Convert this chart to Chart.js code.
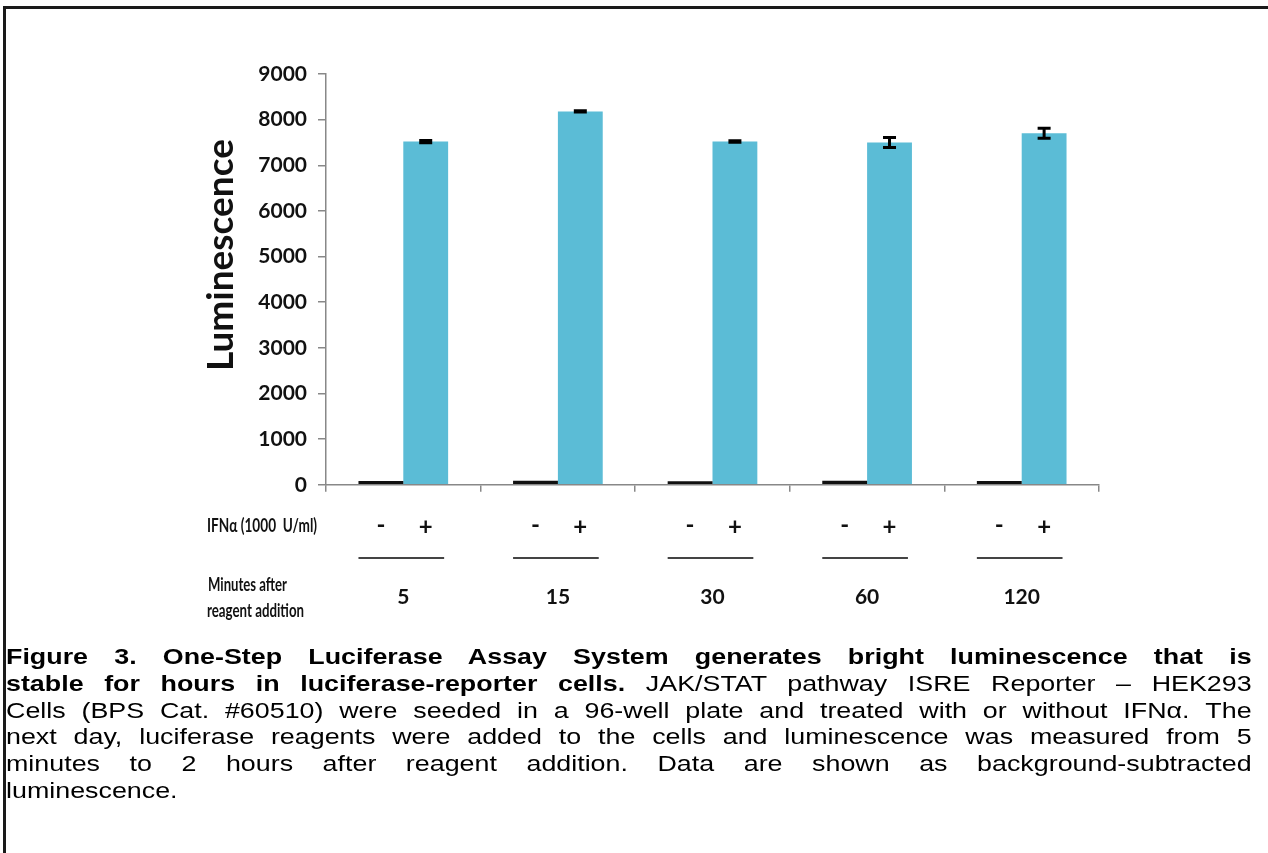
<!DOCTYPE html>
<html>
<head>
<meta charset="utf-8">
<script src="https://cdn.jsdelivr.net/npm/chart.js@4"></script>
<style>
  body { margin: 0; background: #fff; width: 1268px; height: 853px; overflow: hidden; position: relative; }
  #frame { position: absolute; left: 3px; top: 6px; width: 1300px; height: 900px;
           border-top: 3px solid #1a1a1a; border-left: 3px solid #1a1a1a; }
  #wrap { position: absolute; left: 0; top: 0; }
  #caption { position: absolute; left: 6px; top: 644px; width: 1021px;
             transform: scaleX(1.22); transform-origin: 0 0;
             font-family: "Liberation Sans", Arial, sans-serif; font-size: 22px; line-height: 26.8px; color: #000; }
  #caption div { text-align: justify; text-align-last: justify; white-space: nowrap; }
  #caption div.last { text-align-last: left; }
</style>
</head>
<body>
<div id="frame"></div>
<div id="wrap"><canvas id="lumChart" width="1268" height="721"></canvas></div>
<div id="caption">
  <div><b>Figure 3. One-Step Luciferase Assay System generates bright luminescence that is</b></div>
  <div><b>stable for hours in luciferase-reporter cells.</b> JAK/STAT pathway ISRE Reporter – HEK293</div>
  <div>Cells (BPS Cat. #60510) were seeded in a 96-well plate and treated with or without IFNα. The</div>
  <div>next day, luciferase reagents were added to the cells and luminescence was measured from 5</div>
  <div>minutes to 2 hours after reagent addition. Data are shown as background-subtracted</div>
  <div class="last">luminescence.</div>
</div>
<script>
// data
var minutes = ['5', '15', '30', '60', '120'];
var noIFN = [85, 90, 80, 90, 85];
var withIFN = [7520, 8180, 7520, 7500, 7700];
var withIFNErr = [25, 15, 15, 110, 110];
var yTicks = [0, 1000, 2000, 3000, 4000, 5000, 6000, 7000, 8000, 9000];

var labelFont = 'Lato, "Open Sans", sans-serif';

// error bars + the labels under the axis
var extrasPlugin = {
  id: 'extras',
  afterDatasetsDraw: function (chart) {
    var ctx = chart.ctx;
    var y = chart.scales.y;
    var meta = chart.getDatasetMeta(1);
    ctx.save();
    ctx.strokeStyle = '#000';
    ctx.lineWidth = 3;
    meta.data.forEach(function (bar, i) {
      var hi = y.getPixelForValue(withIFN[i] + withIFNErr[i]);
      var lo = y.getPixelForValue(withIFN[i] - withIFNErr[i]);
      var x = bar.x;
      ctx.beginPath();
      ctx.moveTo(x, hi); ctx.lineTo(x, lo);
      ctx.moveTo(x - 6.5, hi); ctx.lineTo(x + 6.5, hi);
      ctx.moveTo(x - 6.5, lo); ctx.lineTo(x + 6.5, lo);
      ctx.stroke();
    });
    ctx.restore();
  },
  afterDraw: function (chart) {
    var ctx = chart.ctx;
    var neg = chart.getDatasetMeta(0).data;
    var pos = chart.getDatasetMeta(1).data;
    ctx.save();
    ctx.fillStyle = '#111';
    ctx.textBaseline = 'middle';

    // y title
    ctx.save();
    ctx.translate(221, 255);
    ctx.rotate(-Math.PI / 2);
    ctx.textAlign = 'center';
    ctx.font = 'bold 37px ' + labelFont;
    ctx.fillText('Luminescence', 0, 0);
    ctx.restore();

    ctx.textAlign = 'left';
    ctx.font = 'bold 19px ' + labelFont;
    ctx.fillText('IFNα (1000  U/ml)', 207, 526, 110);
    ctx.fillText('Minutes after', 208, 585, 79);
    ctx.fillText('reagent addition', 207, 611, 97);

    ctx.textAlign = 'center';
    ctx.font = 'bold 24px ' + labelFont;
    for (var i = 0; i < neg.length; i++) {
      ctx.fillText('-', neg[i].x, 525);
      ctx.fillText('+', pos[i].x, 527);
      ctx.beginPath();
      ctx.strokeStyle = '#444';
      ctx.lineWidth = 2;
      ctx.moveTo(neg[i].x - neg[i].width / 2, 558);
      ctx.lineTo(pos[i].x + pos[i].width / 2 - 4, 558);
      ctx.stroke();
    }
    ctx.restore();
  }
};

var ctx = document.getElementById('lumChart');
var lumChart = new Chart(ctx, {
  type: 'bar',
  data: {
    labels: minutes,
    datasets: [{
      label: '-',
      data: noIFN,
      backgroundColor: '#111'
    }, {
      label: '+',
      data: withIFN,
      backgroundColor: '#5bbcd6'
    }]
  },
  options: {
    responsive: false,
    animation: false,
    layout: { padding: { left: 0, right: 169, top: 74, bottom: 18 } },
    plugins: { legend: { display: false }, tooltip: { enabled: false } },
    datasets: { bar: { categoryPercentage: 0.58, barPercentage: 1.0 } },
    scales: {
      x: {
        grid: { drawOnChartArea: false, tickLength: 7, color: '#888', lineWidth: 1.5 },
        border: { color: '#888', width: 1.5 },
        ticks: { color: '#111', padding: 93, font: { family: labelFont, weight: 'bold', size: 21 } }
      },
      y: {
        min: 0,
        max: 9000,
        afterFit: function (scale) { scale.width = 326; },
        afterBuildTicks: function (scale) { scale.ticks = yTicks.map(function (v) { return { value: v }; }); },
        grid: { drawOnChartArea: false, tickLength: 8, color: '#888', lineWidth: 1.5 },
        border: { color: '#888', width: 1.5 },
        ticks: {
          color: '#111', padding: 11, font: { family: labelFont, weight: 'bold', size: 21 },
          callback: function (v) { return String(v); }
        }
      }
    }
  },
  plugins: [extrasPlugin]
});
</script>
</body>
</html>
